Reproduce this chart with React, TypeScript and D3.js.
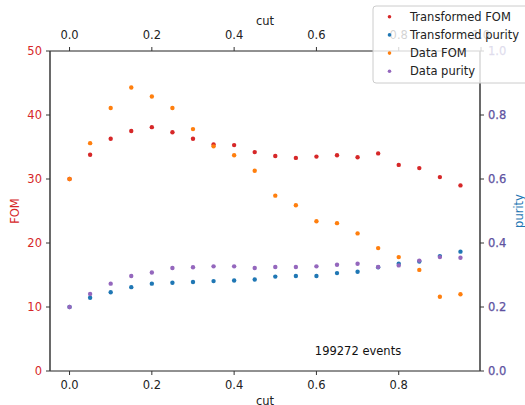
import React from "react";
import * as d3 from "d3";

const cuts = [0, 0.05, 0.1, 0.15, 0.2, 0.25, 0.3, 0.35, 0.4, 0.45, 0.5, 0.55, 0.6, 0.65, 0.7, 0.75, 0.8, 0.85, 0.9, 0.95];
const transformedFom = [30.0, 33.8, 36.3, 37.5, 38.1, 37.3, 36.3, 35.4, 35.3, 34.2, 33.6, 33.3, 33.5, 33.7, 33.4, 34.0, 32.2, 31.7, 30.3, 29.0];
const transformedPurity = [0.2, 0.229, 0.246, 0.262, 0.273, 0.276, 0.278, 0.281, 0.283, 0.286, 0.295, 0.297, 0.297, 0.306, 0.31, 0.324, 0.335, 0.342, 0.359, 0.373];
const dataFom = [30.0, 35.6, 41.1, 44.3, 42.9, 41.1, 37.8, 35.1, 33.7, 31.3, 27.4, 25.9, 23.4, 23.1, 21.5, 19.2, 17.8, 15.8, 11.6, 12.0];
const dataPurity = [0.2, 0.241, 0.273, 0.297, 0.308, 0.322, 0.324, 0.327, 0.327, 0.322, 0.325, 0.325, 0.327, 0.332, 0.335, 0.325, 0.33, 0.345, 0.356, 0.354];

const fomTicks = [0, 10, 20, 30, 40, 50];
const purityTicks = [0, 0.2, 0.4, 0.6, 0.8, 1.0];
const cutTicksBottom = [0, 0.2, 0.4, 0.6, 0.8];
const cutTicksTop = [0, 0.2, 0.4, 0.6, 0.8, 1.0];

const series = [
  { name: "Transformed FOM", color: "#d62728", values: transformedFom, axis: "fom" },
  { name: "Transformed purity", color: "#1f77b4", values: transformedPurity, axis: "purity" },
  { name: "Data FOM", color: "#ff7f0e", values: dataFom, axis: "fom" },
  { name: "Data purity", color: "#9467bd", values: dataPurity, axis: "purity" },
];

const W = 525;
const H = 405;
const left = 50;
const right = 480;
const top = 51;
const bottom = 371;
const font = "DejaVu Sans, sans-serif";

export default function App() {
  const x = d3.scaleLinear().domain([-0.0475, 0.9975]).range([left, right]);
  const yF = d3.scaleLinear().domain([0, 50]).range([bottom, top]);
  const yP = d3.scaleLinear().domain([0, 1]).range([bottom, top]);
  const fmt1 = d3.format(".1f");

  return (
    <svg width={W} height={H} style={{ position: "absolute", left: 0, top: 0, background: "#fff" }} fontFamily={font}>
      {/* points */}
      {series.map((s) => (
        <g key={s.name} fill={s.color}>
          {s.values.map((v, i) => (
            <circle key={i} cx={x(cuts[i])} cy={s.axis === "fom" ? yF(v) : yP(v)} r={2.2} />
          ))}
        </g>
      ))}

      {/* spines */}
      <line x1={left} x2={right} y1={top} y2={top} stroke="#222" strokeWidth={1} />
      <line x1={left} x2={right} y1={bottom} y2={bottom} stroke="#222" strokeWidth={1} />
      <line x1={left} x2={left} y1={top} y2={bottom} stroke="#444" strokeWidth={1.6} />
      <line x1={right} x2={right} y1={top} y2={bottom} stroke="#444" strokeWidth={1.6} />

      {/* left axis */}
      {fomTicks.map((t) => (
        <g key={t}>
          <line x1={left - 4} x2={left} y1={yF(t)} y2={yF(t)} stroke="#333" />
          <text x={left - 8} y={yF(t)} dy="0.35em" textAnchor="end" fontSize={11.5} fill="#d62728">
            {t}
          </text>
        </g>
      ))}
      <text transform={`translate(15,${(top + bottom) / 2}) rotate(-90)`} textAnchor="middle" dy="0.35em" fontSize={11.5} fill="#d62728">
        FOM
      </text>

      {/* right axis */}
      {purityTicks.map((t) => (
        <g key={t}>
          <line x1={right} x2={right + 4} y1={yP(t)} y2={yP(t)} stroke="#333" />
          <text x={right + 8} y={yP(t)} dy="0.35em" fontSize={11.5} fill="#5e52a0" stroke="#5e52a0" strokeWidth={0.25}>
            {fmt1(t)}
          </text>
        </g>
      ))}
      <text transform={`translate(519,${(top + bottom) / 2}) rotate(-90)`} textAnchor="middle" dy="0.35em" fontSize={11.5} fill="#1f77b4">
        purity
      </text>

      {/* bottom axis */}
      {cutTicksBottom.map((t) => (
        <g key={t}>
          <line x1={x(t)} x2={x(t)} y1={bottom} y2={bottom + 4} stroke="#333" />
          <text x={x(t)} y={bottom + 14} dy="0.35em" textAnchor="middle" fontSize={11.5} fill="#222">
            {fmt1(t)}
          </text>
        </g>
      ))}
      <text x={(left + right) / 2} y={401} dy="0.35em" textAnchor="middle" fontSize={11.5} fill="#222">
        cut
      </text>

      {/* top axis */}
      {cutTicksTop.map((t) => (
        <g key={t}>
          <line x1={x(t)} x2={x(t)} y1={top} y2={top - 4} stroke="#333" />
          <text x={x(t)} y={35} dy="0.35em" textAnchor="middle" fontSize={11.5} fill="#222">
            {fmt1(t)}
          </text>
        </g>
      ))}
      <text x={(left + right) / 2} y={21} dy="0.35em" textAnchor="middle" fontSize={11.5} fill="#222">
        cut
      </text>

      <text x={358} y={351} dy="0.35em" textAnchor="middle" fontSize={11.5} fill="#111">
        199272 events
      </text>

      {/* legend */}
      <rect x={373} y={6} width={170} height={77} rx={3} fill="#fff" fillOpacity={0.8} stroke="#ccc" />
      {series.map((s, i) => (
        <g key={s.name} transform={`translate(0,${16.7 + i * 18.2})`}>
          <circle cx={389.5} cy={0} r={1.8} fill={s.color} />
          <text x={410} y={0} dy="0.35em" fontSize={11.5} fill="#222">
            {s.name}
          </text>
        </g>
      ))}
    </svg>
  );
}
